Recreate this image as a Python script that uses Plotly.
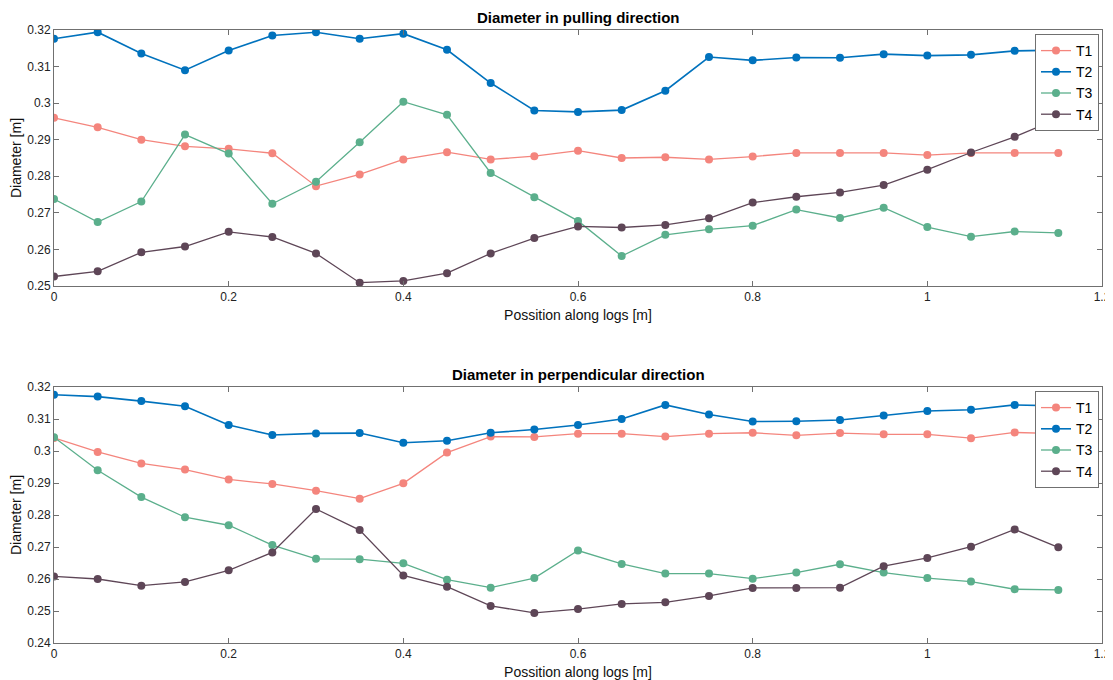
import plotly.graph_objects as go
from plotly.subplots import make_subplots

position = [0, 0.05, 0.1, 0.15, 0.2, 0.25, 0.3, 0.35, 0.4, 0.45, 0.5, 0.55,
            0.6, 0.65, 0.7, 0.75, 0.8, 0.85, 0.9, 0.95, 1.0, 1.05, 1.1, 1.15]

# Diameter in pulling direction
pull_T1 = [0.2960, 0.2934, 0.2900, 0.2882, 0.2875, 0.2863, 0.2773, 0.2805, 0.2846, 0.2866, 0.2846, 0.2855,
           0.2870, 0.2850, 0.2852, 0.2846, 0.2854, 0.2864, 0.2864, 0.2864, 0.2858, 0.2864, 0.2864, 0.2864]
pull_T2 = [0.3176, 0.3194, 0.3136, 0.3090, 0.3144, 0.3185, 0.3194, 0.3176, 0.3190, 0.3146, 0.3055, 0.2980,
           0.2976, 0.2981, 0.3034, 0.3126, 0.3117, 0.3125, 0.3124, 0.3134, 0.3130, 0.3132, 0.3143, 0.3145]
pull_T3 = [0.2738, 0.2675, 0.2731, 0.2914, 0.2862, 0.2725, 0.2785, 0.2893, 0.3004, 0.2968, 0.2809, 0.2743,
           0.2678, 0.2582, 0.2640, 0.2655, 0.2665, 0.2709, 0.2686, 0.2714, 0.2661, 0.2635, 0.2649, 0.2645]
pull_T4 = [0.2526, 0.2540, 0.2592, 0.2608, 0.2648, 0.2634, 0.2589, 0.2509, 0.2514, 0.2535, 0.2589, 0.2631,
           0.2663, 0.2660, 0.2667, 0.2685, 0.2728, 0.2744, 0.2756, 0.2776, 0.2818, 0.2865, 0.2908, 0.2958]

# Diameter in perpendicular direction
perp_T1 = [0.3041, 0.2997, 0.2961, 0.2942, 0.2911, 0.2897, 0.2876, 0.2851, 0.2899, 0.2995, 0.3045, 0.3044,
           0.3054, 0.3054, 0.3045, 0.3054, 0.3057, 0.3049, 0.3056, 0.3052, 0.3052, 0.3040, 0.3058, 0.3054]
perp_T2 = [0.3176, 0.3170, 0.3156, 0.3140, 0.3081, 0.3050, 0.3055, 0.3056, 0.3026, 0.3032, 0.3057, 0.3067,
           0.3081, 0.3100, 0.3144, 0.3114, 0.3092, 0.3093, 0.3097, 0.3111, 0.3125, 0.3129, 0.3144, 0.3141]
perp_T3 = [0.3043, 0.2940, 0.2856, 0.2793, 0.2768, 0.2706, 0.2663, 0.2662, 0.2649, 0.2598, 0.2573, 0.2603,
           0.2689, 0.2647, 0.2617, 0.2617, 0.2601, 0.2620, 0.2646, 0.2620, 0.2603, 0.2592, 0.2568, 0.2566]
perp_T4 = [0.2608, 0.2600, 0.2579, 0.2591, 0.2627, 0.2683, 0.2819, 0.2753, 0.2611, 0.2576, 0.2516, 0.2494,
           0.2506, 0.2522, 0.2527, 0.2547, 0.2572, 0.2572, 0.2573, 0.2640, 0.2666, 0.2701, 0.2755, 0.2699]

series_names = ["T1", "T2", "T3", "T4"]
colors = ["#F4857D", "#0072BD", "#5BAF8C", "#5E4657"]
widths = [1.3, 1.6, 1.3, 1.3]
titles = ["Diameter in pulling direction", "Diameter in perpendicular direction"]

# page body adds an 8px offset; size the figure to fit the 1113x680 window
W, H = 1105, 672
ML, MR, MT, MB = 46, 11, 22, 37
plot_h = H - MT - MB
sub_h = 256
top_dom = [1 - sub_h / plot_h, 1]
bot_dom = [0, sub_h / plot_h]

fig = make_subplots(rows=2, cols=1)
font_family = "Liberation Sans, Arial, sans-serif"

for row, data, leg in [(1, [pull_T1, pull_T2, pull_T3, pull_T4], "legend"),
                       (2, [perp_T1, perp_T2, perp_T3, perp_T4], "legend2")]:
    for name, ys, c, w in zip(series_names, data, colors, widths):
        fig.add_trace(go.Scatter(
            x=position, y=ys, name=name, mode="lines+markers",
            line=dict(color=c, width=w),
            marker=dict(color=c, size=8),
            legend=leg,
        ), row=row, col=1)

axis_common = dict(
    showline=True, linecolor="#707070", linewidth=1, mirror="ticks",
    ticks="inside", ticklen=5, tickcolor="#707070",
    showgrid=False, zeroline=False, automargin=False,
    tickfont=dict(family=font_family, size=12, color="#222"),
)

fig.update_xaxes(**axis_common, range=[0, 1.2], dtick=0.2, tick0=0)
fig.update_xaxes(title=dict(text="Possition along logs [m]", standoff=6,
                            font=dict(family=font_family, size=14, color="#111")))
fig.update_yaxes(**axis_common)
fig.update_yaxes(title=dict(text="Diameter [m]", standoff=4,
                            font=dict(family=font_family, size=14, color="#111")))
fig.update_yaxes(range=[0.25, 0.32], dtick=0.01, tick0=0.25, row=1, col=1)
fig.update_yaxes(range=[0.24, 0.32], dtick=0.01, tick0=0.24, row=2, col=1)

fig.update_layout(
    yaxis=dict(domain=top_dom),
    yaxis2=dict(domain=bot_dom),
)

for dom, t in zip([top_dom, bot_dom], titles):
    fig.add_annotation(text="<b>" + t + "</b>", xref="paper", yref="paper",
                       x=0.5, y=dom[1], yshift=2, xanchor="center", yanchor="bottom",
                       showarrow=False,
                       font=dict(family=font_family, size=15, color="#000"))

legend_style = dict(
    bgcolor="white", bordercolor="#707070", borderwidth=1,
    font=dict(family=font_family, size=14, color="#000"),
    xanchor="left", yanchor="top", itemwidth=30, tracegroupgap=0,
)
lx = (1027 - ML) / (W - ML - MR)
fig.update_layout(
    legend=dict(**legend_style, x=lx, y=top_dom[1] - 4 / plot_h),
    legend2=dict(**legend_style, x=lx, y=bot_dom[1] - 4 / plot_h),
)

fig.update_layout(
    width=W, height=H,
    margin=dict(l=ML, r=MR, t=MT, b=MB, autoexpand=False),
    paper_bgcolor="white", plot_bgcolor="white",
    showlegend=True,
    font=dict(family=font_family),
)

fig.write_html("out.html")
